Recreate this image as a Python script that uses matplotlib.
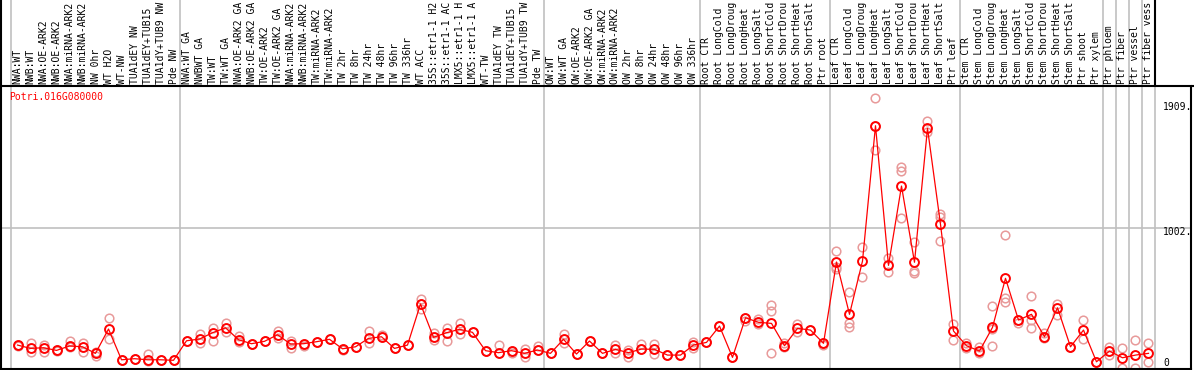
import numpy as np
import matplotlib
matplotlib.use("Agg")
import matplotlib.pyplot as plt
from matplotlib.transforms import blended_transform_factory

gene = "Potri.016G080000"

samples = [
    "NWA:WT", "NWB:WT", "NWA:OE-ARK2", "NWB:OE-ARK2", "NWA:miRNA-ARK2", "NWB:miRNA-ARK2",
    "NW 0hr", "WT H2O", "WT-NW", "TUA1dEY NW", "TUA1dEY+TUB15 NW", "TUA1dY+TUB9 NW", "Pde NW",
    "NWA:WT GA", "NWBWT GA", "TW:WT", "TW:WT GA", "NWA:OE-ARK2 GA", "NWB:OE-ARK2 GA",
    "TW:OE-ARK2", "TW:OE-ARK2 GA", "NWA:miRNA-ARK2", "NWB:miRNA-ARK2", "TW:miRNA-ARK2",
    "TW:miRNA-ARK2 GA", "TW 2hr", "TW 8hr", "TW 24hr", "TW 48hr", "TW 96hr", "TW 336hr",
    "WT ACC", "35S::etr1-1 H2O", "35S::etr1-1 ACC", "LMX5::etr1-1 H2O", "LMX5::etr1-1 ACC",
    "WT-TW", "TUA1dEY TW", "TUA1dEY+TUB15 TW", "TUA1dY+TUB9 TW", "Pde TW",
    "OW:WT", "OW:WT GA", "OW:OE-ARK2", "OW:OE-ARK2 GA", "OW:miRNA-ARK2", "OW:miRNA-ARK2 GA",
    "OW 2hr", "OW 8hr", "OW 24hr", "OW 48hr", "OW 96hr", "OW 336hr",
    "Root CTR", "Root LongCold", "Root LongDrought", "Root LongHeat", "Root LongSalt",
    "Root ShortCold", "Root ShortDrought", "Root ShortHeat", "Root ShortSalt", "Ptr root",
    "Leaf CTR", "Leaf LongCold", "Leaf LongDrought", "Leaf LongHeat", "Leaf LongSalt",
    "Leaf ShortCold", "Leaf ShortDrought", "Leaf ShortHeat", "Leaf ShortSalt", "Ptr leaf",
    "Stem CTR", "Stem LongCold", "Stem LongDrought", "Stem LongHeat", "Stem LongSalt",
    "Stem ShortCold", "Stem ShortDrought", "Stem ShortHeat", "Stem ShortSalt", "Ptr shoot",
    "Ptr xylem", "Ptr phloem", "Ptr fiber", "Ptr vessel", "Ptr fiber vessel",
]

# mean expression per sample
mean_expr = [
    127, 102, 107, 87, 120, 114, 65, 247, 17, 25, 17, 17, 13,
    159, 172, 219, 256, 167, 137, 155, 204, 135, 137, 152, 170, 99, 114, 177, 189, 102, 127,
    434, 185, 219, 245, 222, 85, 70, 85, 65, 90,
    65, 170, 60, 157, 65, 95, 70, 97, 95, 52, 52, 127,
    147, 269, 35, 331, 297, 289, 122, 252, 239, 140,
    748, 357, 755, 1767, 723, 1316, 746, 1748, 1030, 232,
    122, 82, 259, 626, 314, 357, 189, 406, 114, 239, 2,
    82, 32, 52, 65,
]

# individual replicates
replicates = [
    [127, 122], [140, 77], [127, 77], [90, 84], [159, 114], [144, 77], [77, 45], [327, 170],
    [17, 17], [25, 25], [57, 10], [17, 17], [13, 13],
    [159, 159], [209, 144], [252, 159], [289, 222], [194, 150], [137, 137], [155, 155],
    [234, 180], [155, 102], [122, 137], [152, 152], [170, 170], [90, 99], [114, 114],
    [234, 144], [204, 189], [102, 102], [127, 127], [470, 395, 434], [219, 165], [252, 159],
    [294, 209], [222, 222], [85, 85], [127, 65], [70, 85], [95, 40], [120, 90],
    [65, 65], [209, 140], [60, 60], [155, 157], [65, 65], [127, 70], [90, 35], [132, 97],
    [132, 60], [52, 52], [52, 52], [152, 102],
    [147, 147], [269, 269], [35, 35], [331, 309], [319, 284], [426, 384, 65], [144, 110],
    [282, 227], [239, 239], [127, 140],
    [830, 708, 695], [521, 289, 264], [862, 638], [1972, 1585, 1767], [775, 671],
    [1456, 1431, 1079], [895, 680, 663], [1802, 1722], [1104, 1087, 905], [284, 165],
    [140, 102], [114, 65], [421, 245, 122], [950, 476, 451], [294, 314], [496, 314, 252],
    [219, 177], [434, 351], [114, 114], [314, 170], [2, 2],
    [114, 52], [102, -47], [165, -47], [140, 2],
]

# group boundaries (sample index where a new group starts)
group_breaks = [0, 13, 41, 53, 63, 73, 84, 85, 86, 87, 88]

W, H = 1194, 370
fig = plt.figure(figsize=(W / 100, H / 100), dpi=100)

ax = fig.add_axes([1 / W, 1 - 369 / H, 1190 / W, 283 / H])
head = fig.add_axes([1 / W, 1 - 86 / H, 1190 / W, 86 / H], sharex=ax)

x = np.arange(len(samples))
ax.set_xlim(-1.27, 90.27)
ax.set_ylim(-52, 2064)

grey = "#c0c0c0"
for b in group_breaks:
    ax.axvline(b - 0.5, color=grey, lw=1.2, zorder=1)
    if b < 88:
        head.axvline(b - 0.5, color=grey, lw=1.2, zorder=1)
ax.axhline(1002, color=grey, lw=1.2, zorder=1)

# replicates
for xi, reps in zip(x, replicates):
    ax.plot([xi] * len(reps), reps, "o", ms=6.2, mfc="none", mec="#e89a9a",
            mew=1.1, zorder=2)

ax.plot(x, mean_expr, "-", color="red", lw=0.9, zorder=3)
ax.plot(x, mean_expr, "o", ms=6.4, mfc="none", mec="red", mew=1.4, zorder=4)

ax.set_xticks([])
ax.set_yticks([])
for s in ["left", "bottom", "right"]:
    ax.spines[s].set_color("black")
    ax.spines[s].set_linewidth(1.5)
ax.spines["top"].set_visible(False)

mono = "DejaVu Sans Mono"
fs = 7.0
fig.text(9 / W, 1 - 97 / H, gene, color="red", fontsize=fs, family=mono,
         va="center", ha="left")
fig.text(1163 / W, 1 - 107 / H, "1909.", fontsize=fs, family=mono, va="center", ha="left")
fig.text(1163 / W, 1 - 232 / H, "1002.", fontsize=fs, family=mono, va="center", ha="left")
fig.text(1163 / W, 1 - 363 / H, "0", fontsize=fs, family=mono, va="center", ha="left")

# header with rotated sample names (cut to the 14 characters shown)
head.set_ylim(0, 1)
head.set_xticks([])
head.set_yticks([])
for s in ["top", "right", "bottom"]:
    head.spines[s].set_visible(False)
head.spines["left"].set_linewidth(1.5)
htrans = blended_transform_factory(head.transData, head.transAxes)
for xi, name in zip(x, samples):
    head.text(xi, 0.025, name[:14], transform=htrans, rotation=90, ha="center",
              va="bottom", fontsize=fs, family=mono)

head.axvline(87.5, color="black", lw=1.5)
fig.add_artist(plt.Line2D([0, 1], [1 - 86 / H, 1 - 86 / H], color="black", lw=1.5,
                          transform=fig.transFigure))

fig.savefig("out.png", dpi=100)
